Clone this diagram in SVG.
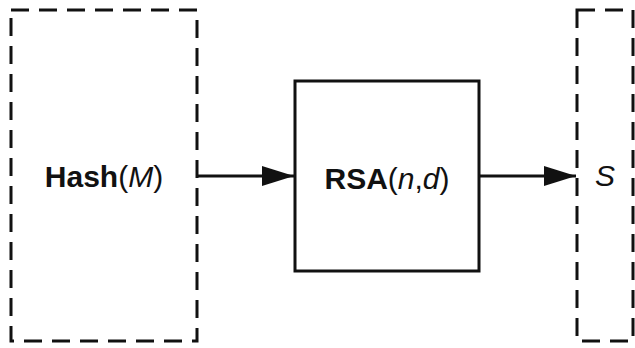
<svg xmlns="http://www.w3.org/2000/svg" width="635" height="348" viewBox="0 0 635 348">
<style>
.dash{fill:none;stroke:#111;stroke-width:3;stroke-dasharray:18 10}
.box{fill:none;stroke:#111;stroke-width:3}
.edge{stroke:#111;stroke-width:3;fill:none}
.lbl{font-family:"Liberation Sans",Arial,sans-serif;font-size:30px;fill:#111;text-anchor:middle}
.b{font-weight:bold}
.i{font-style:italic}
</style>
<defs>
<marker id="ah2" viewBox="0 0 32 20" refX="32" refY="10" markerWidth="32" markerHeight="20" markerUnits="userSpaceOnUse" orient="auto">
<path d="M0,0 L32,10 L0,20 z" fill="#111"/>
</marker>
</defs>
<g id="hash">
<rect class="dash" x="11" y="10" width="186" height="331"/>
<text class="lbl" x="104" y="187"><tspan class="b">Hash</tspan>(<tspan class="i">M</tspan>)</text>
</g>
<g id="rsa">
<rect class="box" x="295" y="81" width="184" height="190"/>
<text class="lbl" x="387" y="189"><tspan class="b">RSA</tspan>(<tspan class="i">n</tspan>,<tspan class="i">d</tspan>)</text>
</g>
<g id="s">
<rect class="dash" x="577" y="10" width="56" height="331"/>
<text class="lbl i" x="605" y="186">S</text>
</g>
<g id="connectors">
<line class="edge" x1="197" y1="176" x2="294" y2="176" marker-end="url(#ah2)"/>
<line class="edge" x1="479" y1="176" x2="576" y2="176" marker-end="url(#ah2)"/>
</g>
</svg>
